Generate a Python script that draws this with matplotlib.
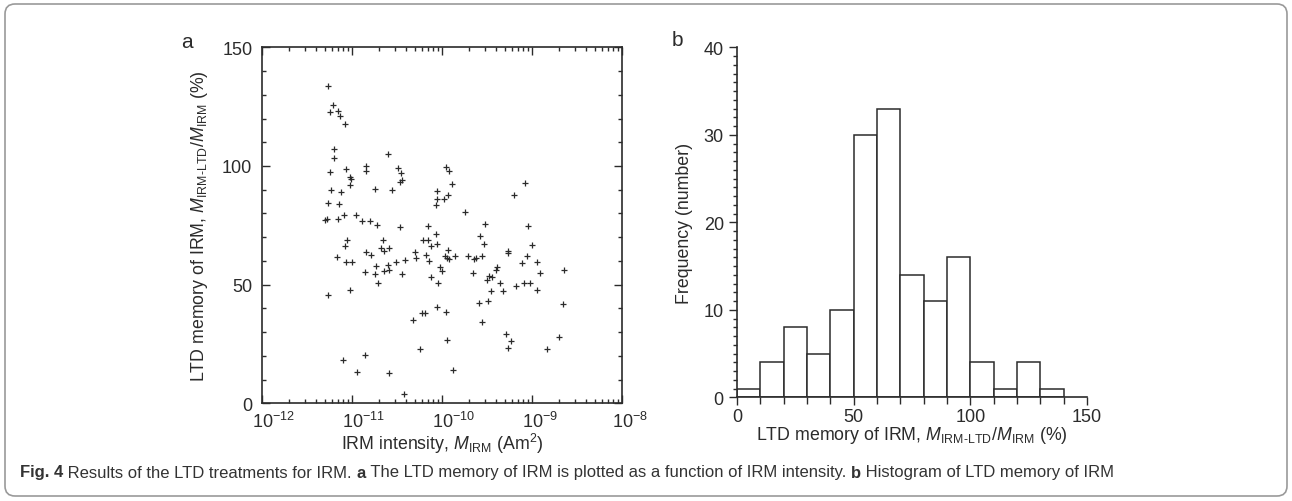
import numpy as np
import matplotlib
matplotlib.use('Agg')
import matplotlib.pyplot as plt
from matplotlib.ticker import LogLocator, MultipleLocator, NullFormatter
from matplotlib.patches import FancyBboxPatch
from matplotlib.transforms import ScaledTranslation

plt.rcParams['font.family'] = ['Liberation Sans', 'DejaVu Sans']
plt.rcParams['mathtext.fontset'] = 'custom'
plt.rcParams['mathtext.rm'] = 'Liberation Sans'
plt.rcParams['mathtext.it'] = 'Liberation Sans:italic'
plt.rcParams['mathtext.bf'] = 'Liberation Sans:bold'
plt.rcParams['axes.unicode_minus'] = False

# panel a: log10 of IRM intensity (Am^2) and LTD memory (%)
log_irm = [
    -11.27, -11.21, -11.25, -11.16, -11.13, -11.08, -11.20, -11.20, -10.60, -11.25,
    -11.07, -10.85, -10.85, -10.49, -10.46, -11.02, -11.01, -11.02, -10.44, -10.47,
    -11.23, -11.12, -10.75, -10.56, -11.27, -11.14, -11.09, -10.96, -11.28, -11.30,
    -11.16, -10.89, -10.80, -10.72, -10.47, -11.05, -11.08, -10.66, -10.68, -10.59,
    -10.85, -10.79, -10.64, -10.30, -10.29, -11.17, -11.07, -11.00, -10.73, -10.60,
    -10.51, -10.41, -10.86, -10.75, -10.64, -10.59, -10.45, -10.71, -11.27, -11.02,
    -10.32, -10.25, -11.10, -10.86, -10.94, -10.59, -10.42, -9.96, -9.92, -9.89,
    -10.05, -9.93, -9.98, -10.06, -10.07, -9.74, -9.08, -9.20, -10.16, -9.52,
    -9.04, -10.07, -9.58, -10.21, -10.16, -10.12, -10.06, -9.53, -9.00, -9.93,
    -9.27, -9.27, -10.18, -10.14, -9.97, -9.94, -9.92, -9.86, -9.71, -9.64,
    -9.62, -9.56, -9.05, -9.11, -8.94, -9.39, -9.40, -8.91, -8.64, -10.02,
    -10.00, -10.12, -10.04, -9.66, -9.48, -9.44, -9.50, -9.36, -9.09, -9.02,
    -9.18, -9.46, -9.32, -8.95, -9.59, -9.49, -8.66, -10.06, -10.22, -10.19,
    -9.96, -9.55, -9.29, -9.23, -9.27, -8.70, -8.83, -9.94, -9.88,
]
ltd_memory = [
    133.9, 125.5, 122.6, 123.0, 121.2, 117.7, 107.3, 103.5, 105.1, 97.3,
    98.9, 100.1, 97.8, 99.2, 97.1, 95.2, 94.4, 92.1, 94.2, 93.1,
    89.9, 88.9, 90.2, 89.7, 84.5, 84.0, 79.3, 79.4, 77.7, 77.1,
    77.5, 76.8, 76.8, 75.1, 74.5, 68.8, 66.4, 69.0, 65.6, 65.6,
    63.9, 62.5, 64.4, 63.6, 61.2, 61.8, 59.4, 59.4, 57.8, 58.5,
    59.6, 60.4, 55.3, 54.5, 55.9, 56.1, 54.5, 50.7, 45.7, 47.8,
    35.3, 22.8, 18.2, 20.3, 13.1, 12.9, 3.8, 99.6, 97.9, 92.4,
    89.3, 87.7, 86.1, 85.9, 83.7, 80.6, 92.8, 87.8, 74.6, 75.6,
    74.7, 71.2, 70.5, 68.8, 68.8, 66.3, 67.1, 67.1, 66.9, 64.8,
    64.3, 63.2, 62.5, 60.1, 62.2, 61.4, 60.7, 62.0, 62.0, 60.8,
    61.1, 62.2, 62.2, 59.0, 59.7, 57.6, 56.3, 54.8, 56.1, 57.3,
    55.9, 53.2, 50.6, 54.8, 53.7, 53.1, 52.0, 50.8, 50.9, 50.7,
    49.3, 47.2, 47.2, 47.9, 42.2, 43.1, 41.9, 40.7, 38.0, 38.0,
    38.4, 34.4, 29.2, 26.2, 23.2, 28.0, 22.9, 26.7, 14.1,
]
decades = [-12, -11, -10, -9, -8]

# panel b: histogram of LTD memory (%)
bin_edges = [0, 10, 20, 30, 40, 50, 60, 70, 80, 90, 100, 110, 120, 130, 140]
counts = [1, 4, 8, 5, 10, 30, 33, 14, 11, 16, 4, 1, 4, 1]

ink = '#2b2b2b'
W, H = 1292, 502
fs_tick = 13
fs_lab = 12.8
fig = plt.figure(figsize=(W / 100, H / 100), dpi=100)

# ---- panel a ----
ax1 = fig.add_axes([262 / W, 1 - 404.4 / H, 360 / W, 356.1 / H])
ax1.plot(10 ** np.array(log_irm), ltd_memory, '+', color=ink, ms=5, mew=0.9)
ax1.set_xscale('log')
ax1.set_xlim(1e-12, 1e-8)
ax1.set_ylim(0, 150)
ax1.set_xticks([10.0 ** d for d in decades], [''] * len(decades))
ax1.xaxis.set_minor_locator(LogLocator(base=10, subs=np.arange(2, 10), numticks=20))
ax1.xaxis.set_minor_formatter(NullFormatter())
ax1.yaxis.set_major_locator(MultipleLocator(50))
ax1.yaxis.set_minor_locator(MultipleLocator(10))
ax1.tick_params(which='both', direction='in', top=True, right=True, color=ink,
                labelsize=fs_tick, labelcolor=ink, width=1)
ax1.tick_params(which='major', length=6, pad=7)
ax1.tick_params(which='minor', length=3)
for s in ax1.spines.values():
    s.set_linewidth(1.2)
    s.set_color(ink)

# decade labels: the "10" sits on the tick, exponent hangs to the right
lab_trans = ax1.get_xaxis_transform() + ScaledTranslation(-0.095, -0.075, fig.dpi_scale_trans)
for d in decades:
    ax1.text(10.0 ** d, 0, r'10$^{%d}$' % d, transform=lab_trans, ha='left', va='top',
             fontsize=fs_tick, color=ink, clip_on=False)

ax1.set_xlabel(r'IRM intensity, $M_{\mathrm{IRM}}$ (Am$^2$)', fontsize=fs_lab, color=ink)
ax1.xaxis.set_label_coords(0.5, -0.076)
ax1.set_ylabel(r'LTD memory of IRM, $M_{\mathrm{IRM\text{-}LTD}}/M_{\mathrm{IRM}}$ (%)',
               fontsize=fs_lab, color=ink, labelpad=9)

# ---- panel b ----
ax2 = fig.add_axes([737 / W, 1 - 398.3 / H, 350 / W, 350 / H])
ax2.bar(bin_edges[:-1], counts, width=np.diff(bin_edges), align='edge',
        color='white', edgecolor=ink, linewidth=1.1)
ax2.set_xlim(0, 150)
ax2.set_ylim(0, 40)
ax2.xaxis.set_major_locator(MultipleLocator(50))
ax2.xaxis.set_minor_locator(MultipleLocator(10))
ax2.yaxis.set_major_locator(MultipleLocator(10))
ax2.yaxis.set_minor_locator(MultipleLocator(1))
ax2.spines['top'].set_visible(False)
ax2.spines['right'].set_visible(False)
for s in ('left', 'bottom'):
    ax2.spines[s].set_linewidth(1.2)
    ax2.spines[s].set_color(ink)
ax2.tick_params(which='both', direction='out', color=ink, labelsize=fs_tick, labelcolor=ink, width=1)
ax2.tick_params(which='major', length=6)
ax2.tick_params(axis='x', which='major', pad=2)
ax2.tick_params(which='minor', length=3)
ax2.tick_params(axis='x', which='minor', length=5)
ax2.set_xlabel(r'LTD memory of IRM, $M_{\mathrm{IRM\text{-}LTD}}/M_{\mathrm{IRM}}$ (%)',
               fontsize=fs_lab, color=ink, labelpad=-1)
ax2.set_ylabel('Frequency (number)', fontsize=fs_lab, color=ink, labelpad=8)

fig.text(187 / W, 1 - 42 / H, 'a', fontsize=15, color=ink, ha='center', va='center')
fig.text(677 / W, 1 - 40 / H, 'b', fontsize=15, color=ink, ha='center', va='center')

# frame
frame = FancyBboxPatch((0.05, 0.05), W / 100 - 0.1, H / 100 - 0.1,
                       boxstyle='round,pad=0,rounding_size=0.1',
                       transform=fig.dpi_scale_trans, fill=False,
                       edgecolor='#9a9a9a', linewidth=1.2)
fig.patches.append(frame)

fig.canvas.draw()
renderer = fig.canvas.get_renderer()

# caption with bold pieces
pieces = [('Fig. 4', 'bold'), (' Results of the LTD treatments for IRM. ', 'normal'),
          ('a', 'bold'), (' The LTD memory of IRM is plotted as a function of IRM intensity. ', 'normal'),
          ('b', 'bold'), (' Histogram of LTD memory of IRM', 'normal')]
x = 20
for txt, wt in pieces:
    t = fig.text(x / W, 1 - 473 / H, txt, fontsize=12, weight=wt,
                 color='#333333', va='center', ha='left')
    x += t.get_window_extent(renderer).width

fig.savefig('out.png', dpi=100)
